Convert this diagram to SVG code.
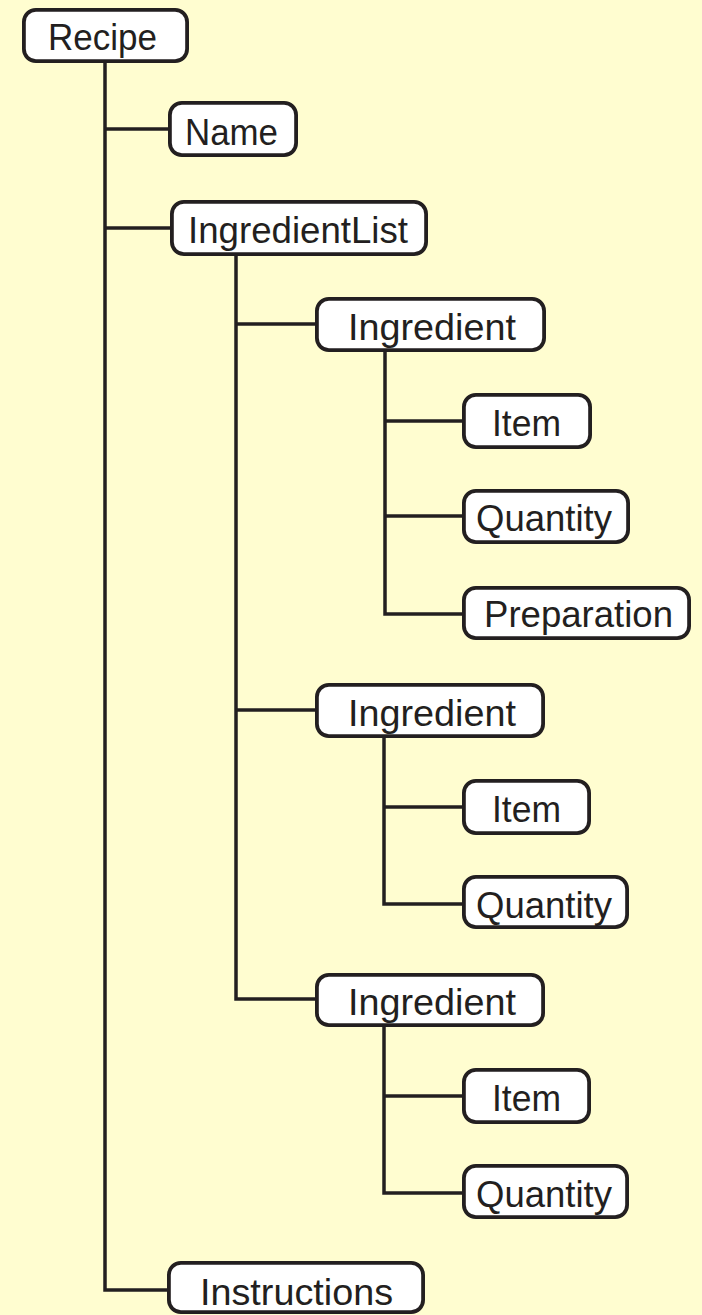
<svg xmlns="http://www.w3.org/2000/svg" width="702" height="1315" viewBox="0 0 702 1315">
<style>
.bg{fill:#FFFDD0}
.box{fill:#FFFFFF;stroke:#231F20;stroke-width:3.8}
.lbl{font-family:"Liberation Sans",Arial,sans-serif;font-size:37.5px;fill:#231F20}
.conn{fill:none;stroke:#231F20;stroke-width:3.5;stroke-linejoin:miter}
</style>
<rect class="bg" x="0" y="0" width="702" height="1315"/>
<g id="connectors">
<path class="conn" d="M105,62 V1290 H169"/>
<path class="conn" d="M105,129 H170"/>
<path class="conn" d="M105,228 H172"/>
<path class="conn" d="M236,255 V999 H317"/>
<path class="conn" d="M236,324 H317"/>
<path class="conn" d="M236,710 H317"/>
<path class="conn" d="M385,350 V614 H464"/>
<path class="conn" d="M385,421 H464"/>
<path class="conn" d="M385,516 H464"/>
<path class="conn" d="M384,736 V904 H464"/>
<path class="conn" d="M384,807 H464"/>
<path class="conn" d="M384,1025 V1193 H464"/>
<path class="conn" d="M384,1096 H464"/>
</g>
<g id="recipe"><rect class="box" x="23.9" y="9.9" width="163.2" height="51.2" rx="12"/><text class="lbl" x="48" y="49.5" textLength="109" lengthAdjust="spacingAndGlyphs">Recipe</text></g>
<g id="name"><rect class="box" x="169.9" y="102.9" width="126.2" height="52.2" rx="12"/><text class="lbl" x="185" y="144.5" textLength="93" lengthAdjust="spacingAndGlyphs">Name</text></g>
<g id="ingredientlist"><rect class="box" x="171.9" y="201.9" width="254.2" height="52.2" rx="12"/><text class="lbl" x="188" y="242.5" textLength="220" lengthAdjust="spacingAndGlyphs">IngredientList</text></g>
<g id="ingredient1"><rect class="box" x="316.9" y="298.9" width="227.2" height="51.2" rx="12"/><text class="lbl" x="348" y="339.5" textLength="168" lengthAdjust="spacingAndGlyphs">Ingredient</text></g>
<g id="item1"><rect class="box" x="463.9" y="394.9" width="126.2" height="52.2" rx="12"/><text class="lbl" x="492" y="435.5" textLength="69" lengthAdjust="spacingAndGlyphs">Item</text></g>
<g id="quantity1"><rect class="box" x="463.9" y="490.9" width="164.2" height="51.2" rx="12"/><text class="lbl" x="476" y="530.5" textLength="136" lengthAdjust="spacingAndGlyphs">Quantity</text></g>
<g id="preparation"><rect class="box" x="463.9" y="587.9" width="225.2" height="50.2" rx="12"/><text class="lbl" x="484" y="626.5" textLength="189" lengthAdjust="spacingAndGlyphs">Preparation</text></g>
<g id="ingredient2"><rect class="box" x="316.9" y="684.9" width="226.2" height="51.2" rx="12"/><text class="lbl" x="348" y="725.5" textLength="168" lengthAdjust="spacingAndGlyphs">Ingredient</text></g>
<g id="item2"><rect class="box" x="463.9" y="780.9" width="125.2" height="52.2" rx="12"/><text class="lbl" x="492" y="821.5" textLength="69" lengthAdjust="spacingAndGlyphs">Item</text></g>
<g id="quantity2"><rect class="box" x="463.9" y="876.9" width="163.2" height="50.2" rx="12"/><text class="lbl" x="476" y="917.5" textLength="136" lengthAdjust="spacingAndGlyphs">Quantity</text></g>
<g id="ingredient3"><rect class="box" x="316.9" y="974.9" width="226.2" height="50.2" rx="12"/><text class="lbl" x="348" y="1014.5" textLength="168" lengthAdjust="spacingAndGlyphs">Ingredient</text></g>
<g id="item3"><rect class="box" x="463.9" y="1069.9" width="125.2" height="52.2" rx="12"/><text class="lbl" x="492" y="1110.5" textLength="69" lengthAdjust="spacingAndGlyphs">Item</text></g>
<g id="quantity3"><rect class="box" x="463.9" y="1165.9" width="163.2" height="51.2" rx="12"/><text class="lbl" x="476" y="1206.5" textLength="136" lengthAdjust="spacingAndGlyphs">Quantity</text></g>
<g id="instructions"><rect class="box" x="168.9" y="1262.9" width="254.2" height="49.2" rx="12"/><text class="lbl" x="200" y="1304.5" textLength="193" lengthAdjust="spacingAndGlyphs">Instructions</text></g>
</svg>
